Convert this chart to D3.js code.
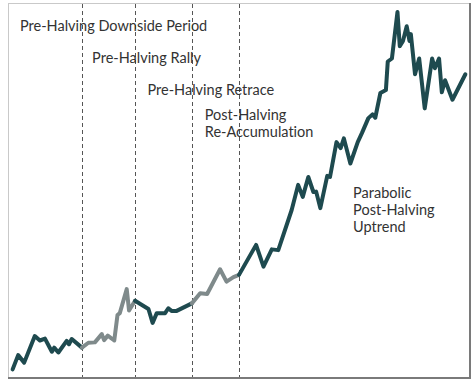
<!DOCTYPE html>
<html>
<head>
<meta charset="utf-8">
<script src="https://cdn.jsdelivr.net/npm/d3@7"></script>
<style>
  body { margin: 0; background: #fff; }
  svg { display: block; }
</style>
</head>
<body>
<div id="chart"></div>
<script>
// time index (0-100) and price index (0-100)
var times = [1, 2.2, 3.5, 5.8, 6.9, 8, 9.5, 10, 10.9, 12.7, 13.2, 13.8, 16,
  17.4, 18.8, 20.3, 20.8, 21.6, 23, 23.7, 24.2, 25.7, 26.2, 27.5,
  30.4, 31.3, 32.2, 34, 34.7, 35.4, 36.5, 39.8,
  41.6, 43.1, 45.9, 47.3, 48.8, 50,
  53.7, 55.3, 57.1, 58.5, 61.4, 62.8, 63.8, 65, 66.1, 66.7, 67.6, 69.1, 69.7,
  71.1, 72, 72.7, 74.1, 75.7, 76.6, 78, 78.9, 79.5, 80.6, 81.8, 82.2, 83.1,
  84.3, 84.8, 85.5, 86.3, 86.9, 87.2, 88.1, 89, 90.2, 91.8, 92.4, 93.3,
  93.9, 94.6, 96.2, 99];
var prices = [2.3, 6.1, 4.1, 11.2, 10, 10.5, 7, 8.1, 6.8, 9.9, 9, 10.4, 8.1,
  9.4, 9.5, 11.7, 10.1, 11.3, 10, 16.8, 17.3, 23.7, 18, 20.6,
  18.4, 14.7, 17.3, 17.3, 18.6, 17.9, 17.9, 19.9,
  22.6, 22.4, 29, 25.7, 26.9, 27.5,
  35.5, 29.7, 34.3, 34.1, 44.8, 51.5, 48.3, 53.6, 49.6, 49.7, 45.3, 53.9, 53.6,
  62.9, 61.3, 63.9, 57.2, 62.9, 65.3, 69.3, 70.3, 69.4, 76, 76.8, 84.4, 85.2,
  97.6, 88.5, 89.9, 93.8, 89.9, 91.7, 81, 85.2, 71.9, 85.2, 82.6, 85.2,
  76.2, 79.4, 74.2, 81];

// phase boundaries (time index) and labels
var phaseBreaks = [0, 16, 27.5, 39.8, 50, 100];
var phaseColors = ["#1e4a4f", "#7f8a8b", "#1e4a4f", "#7f8a8b", "#1e4a4f"];
var phaseLabels = [
  ["Pre-Halving Downside Period"],
  ["Pre-Halving Rally"],
  ["Pre-Halving Retrace"],
  ["Post-Halving", "Re-Accumulation"],
  ["Parabolic", "Post-Halving", "Uptrend"]
];
var labelPos = [[2.6, 92.5], [18.2, 84], [30.2, 75.5], [42.6, 68.8], [74.7, 48]];

var w = 474, h = 381;
var plotLeft = 8, plotRight = 470, plotTop = 3, plotBottom = 378;

var data = times.map(function (t, i) { return { t: t, v: prices[i] }; });

var xScale = d3.scaleLinear().domain([0, 100]).range([plotLeft, plotRight]);
var yScale = d3.scaleLinear().domain([0, 100]).range([plotBottom, plotTop]);

var svg = d3.select("#chart").append("svg")
  .attr("width", w)
  .attr("height", h);

// frame
svg.append("line").attr("x1", plotLeft).attr("x2", plotRight).attr("y1", plotTop + 0.5).attr("y2", plotTop + 0.5)
  .attr("stroke", "#c9c9c9").attr("stroke-width", 1);
svg.append("line").attr("x1", plotLeft + 0.5).attr("x2", plotLeft + 0.5).attr("y1", plotTop).attr("y2", plotBottom)
  .attr("stroke", "#c9c9c9").attr("stroke-width", 1);
svg.append("line").attr("x1", plotRight).attr("x2", plotRight).attr("y1", plotTop).attr("y2", plotBottom + 1)
  .attr("stroke", "#7a7a7a").attr("stroke-width", 2);
svg.append("line").attr("x1", plotLeft).attr("x2", plotRight + 1).attr("y1", plotBottom).attr("y2", plotBottom)
  .attr("stroke", "#7a7a7a").attr("stroke-width", 2);

// dashed phase dividers
svg.selectAll(".divider")
  .data(phaseBreaks.slice(1, -1))
  .enter()
  .append("line")
  .attr("class", "divider")
  .attr("x1", function (d) { return Math.round(xScale(d)) + 0.5; })
  .attr("x2", function (d) { return Math.round(xScale(d)) + 0.5; })
  .attr("y1", plotTop + 1)
  .attr("y2", plotBottom - 1)
  .attr("stroke", "#555")
  .attr("stroke-width", 1)
  .attr("stroke-dasharray", "4,3");

// labels
var labels = svg.selectAll(".label")
  .data(phaseLabels)
  .enter()
  .append("text")
  .attr("class", "label")
  .attr("x", function (d, i) { return xScale(labelPos[i][0]); })
  .attr("y", function (d, i) { return yScale(labelPos[i][1]); })
  .style("font-family", "Lato, sans-serif")
  .style("font-size", "14.5px")
  .style("font-variant-ligatures", "none")
  .style("fill", "#333");

labels.selectAll("tspan")
  .data(function (d) { return d; })
  .enter()
  .append("tspan")
  .attr("x", function () { return d3.select(this.parentNode).attr("x"); })
  .attr("dy", function (d, i) { return i === 0 ? 0 : 16.8; })
  .text(function (d) { return d; });

// price line, one piece per phase
var line = d3.line()
  .x(function (d) { return xScale(d.t); })
  .y(function (d) { return yScale(d.v); });

svg.selectAll(".phase")
  .data(phaseColors)
  .enter()
  .append("path")
  .attr("class", "phase")
  .attr("d", function (c, i) {
    return line(data.filter(function (d) {
      return d.t >= phaseBreaks[i] && d.t <= phaseBreaks[i + 1];
    }));
  })
  .attr("fill", "none")
  .attr("stroke", function (c) { return c; })
  .attr("stroke-width", 4)
  .attr("stroke-linejoin", "round")
  .attr("stroke-linecap", "round");
</script>
</body>
</html>
